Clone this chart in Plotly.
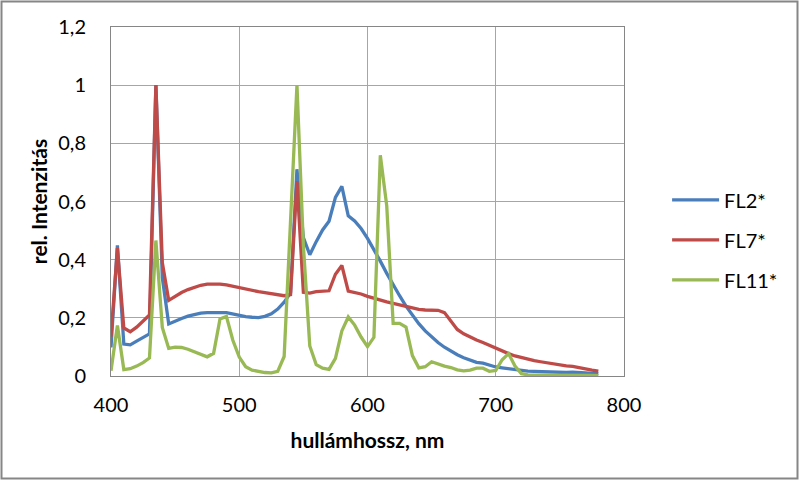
import plotly.graph_objects as go

wavelength_nm = [400, 405, 410, 415, 420, 425, 430, 435, 440, 445, 450, 455, 460, 465, 470, 475,
                 480, 485, 490, 495, 500, 505, 510, 515, 520, 525, 530, 535, 540, 545, 550, 555,
                 560, 565, 570, 575, 580, 585, 590, 595, 600, 605, 610, 615, 620, 625, 630, 635,
                 640, 645, 650, 655, 660, 665, 670, 675, 680, 685, 690, 695, 700, 705, 710, 715,
                 720, 725, 730, 735, 740, 745, 750, 755, 760, 765, 770, 775, 780]

fl2 = [0.098, 0.449, 0.110, 0.107, 0.120, 0.132, 0.145, 1.000,
       0.338, 0.179, 0.190, 0.198, 0.206, 0.212, 0.216, 0.218,
       0.219, 0.218, 0.218, 0.213, 0.208, 0.204, 0.202, 0.201,
       0.205, 0.214, 0.230, 0.254, 0.286, 0.711, 0.476, 0.417,
       0.462, 0.502, 0.532, 0.614, 0.652, 0.551, 0.533, 0.507,
       0.473, 0.435, 0.395, 0.353, 0.313, 0.276, 0.240, 0.209,
       0.180, 0.155, 0.134, 0.115, 0.099, 0.085, 0.073, 0.063,
       0.054, 0.047, 0.044, 0.036, 0.031, 0.028, 0.025, 0.022,
       0.019, 0.017, 0.016, 0.015, 0.015, 0.013, 0.013, 0.012,
       0.013, 0.013, 0.011, 0.009, 0.008]

fl7 = [0.135, 0.440, 0.165, 0.152, 0.168, 0.190, 0.210, 1.000,
       0.390, 0.260, 0.275, 0.287, 0.297, 0.305, 0.312, 0.316,
       0.317, 0.316, 0.313, 0.308, 0.303, 0.299, 0.295, 0.290,
       0.287, 0.283, 0.279, 0.276, 0.280, 0.670, 0.288, 0.285,
       0.290, 0.292, 0.293, 0.350, 0.380, 0.292, 0.288, 0.282,
       0.274, 0.267, 0.261, 0.255, 0.250, 0.245, 0.240, 0.234,
       0.229, 0.227, 0.227, 0.226, 0.218, 0.190, 0.160, 0.145,
       0.133, 0.124, 0.115, 0.105, 0.095, 0.085, 0.077, 0.069,
       0.063, 0.058, 0.053, 0.049, 0.045, 0.042, 0.038, 0.035,
       0.033, 0.028, 0.024, 0.020, 0.017]

fl11 = [0.018, 0.174, 0.022, 0.025, 0.034, 0.046, 0.062, 0.466,
        0.167, 0.095, 0.099, 0.098, 0.092, 0.084, 0.075, 0.066,
        0.078, 0.196, 0.205, 0.123, 0.065, 0.032, 0.020, 0.015,
        0.012, 0.011, 0.016, 0.067, 0.544, 1.000, 0.448, 0.103,
        0.039, 0.027, 0.023, 0.061, 0.155, 0.203, 0.175, 0.134,
        0.101, 0.133, 0.759, 0.585, 0.181, 0.181, 0.168, 0.070,
        0.028, 0.032, 0.049, 0.041, 0.034, 0.029, 0.021, 0.018,
        0.020, 0.027, 0.027, 0.016, 0.019, 0.056, 0.077, 0.034,
        0.008, 0.004, 0.003, 0.003, 0.003, 0.003, 0.003, 0.003,
        0.004, 0.004, 0.002, 0.002, 0.001]

series_names = ["FL2*", "FL7*", "FL11*"]
series_values = [fl2, fl7, fl11]
series_colors = ["#4A7EBB", "#BE4B48", "#98B954"]

x_ticks = [400, 500, 600, 700, 800]
y_ticks = [0, 0.2, 0.4, 0.6, 0.8, 1.0, 1.2]

FONT = "Lato, 'Open Sans', sans-serif"

fig = go.Figure()
for name, vals, col in zip(series_names, series_values, series_colors):
    fig.add_trace(go.Scatter(
        x=wavelength_nm, y=vals, mode="lines", name=name, legendgroup=name,
        line=dict(color=col, width=3.3),
    ))

W, H = 800, 481
ml, mr, mt, mb = 111, 176, 27, 105
pw = W - ml - mr
ph = H - mt - mb

grid = "#A6A6A6"
fig.update_layout(
    width=W, height=H,
    margin=dict(l=ml, r=mr, t=mt, b=mb, pad=0),
    paper_bgcolor="white", plot_bgcolor="white",
    separators=", ",
    font=dict(family=FONT, size=20, color="#000000"),
    showlegend=True,
    legend=dict(x=1.084, xanchor="left", y=0.39, yanchor="middle",
                font=dict(family=FONT, size=20, color="#000000"),
                itemwidth=47,
                tracegroupgap=11, bgcolor="rgba(0,0,0,0)"),
    xaxis=dict(range=[400, 800], tickvals=x_ticks, showgrid=True, gridcolor=grid, gridwidth=1,
               showline=True, linecolor="#868686", linewidth=1, mirror=True, zeroline=False,
               ticks="", ticklabelstandoff=11,
               tickfont=dict(family=FONT, size=20),
               title=dict(text="<b>hullámhossz, nm</b>", standoff=18,
                          font=dict(family=FONT, size=21))),
    yaxis=dict(range=[0, 1.2], tickvals=y_ticks, showgrid=True, gridcolor=grid, gridwidth=1,
               showline=True, linecolor="#868686", linewidth=1, mirror=True, zeroline=False,
               ticks="", ticklabelstandoff=20,
               tickfont=dict(family=FONT, size=20),
               title=dict(text="<b>rel. Intenzitás</b>", standoff=4,
                          font=dict(family=FONT, size=21))),
)

# outer chart-area frame
fig.add_shape(type="rect", xref="paper", yref="paper",
              x0=(1.5 - ml) / pw, x1=(W - 2.5 - ml) / pw,
              y0=(H - mb - (H - 2.5)) / ph, y1=(H - mb - 1.5) / ph,
              line=dict(color="#868686", width=2), fillcolor="rgba(0,0,0,0)", layer="above")

fig.write_html("out.html", config={"displayModeBar": False},
               post_script="document.body.style.margin='0px';document.body.style.overflow='hidden';")
